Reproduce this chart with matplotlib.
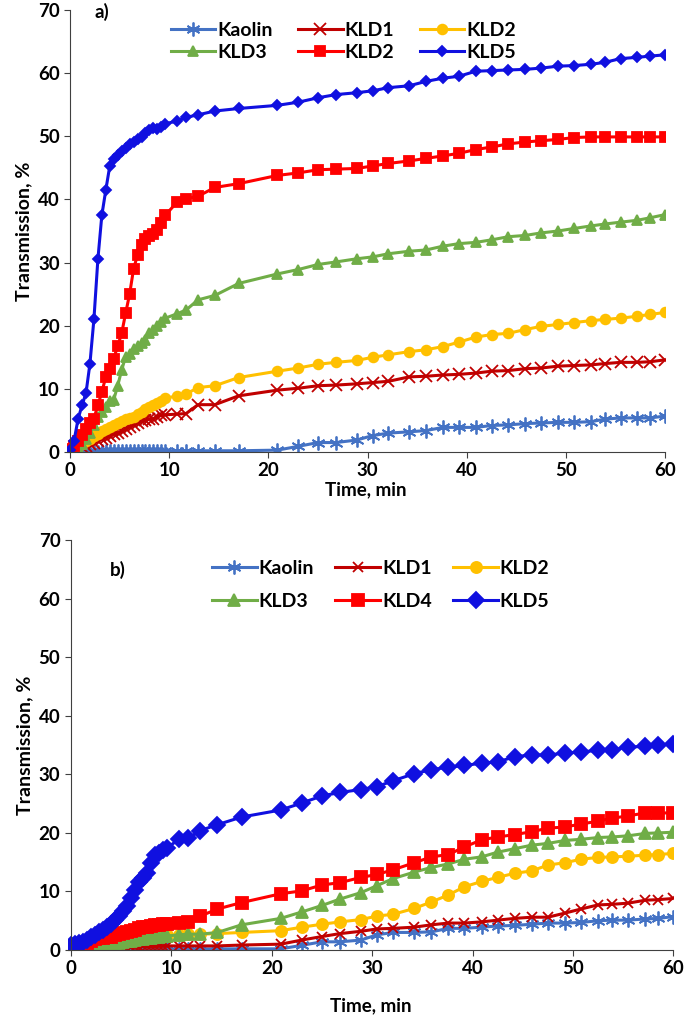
import matplotlib
matplotlib.use("Agg")
import matplotlib.pyplot as plt

plt.rcParams['font.family'] = ['Lato', 'DejaVu Sans']
plt.rcParams['font.weight'] = 'bold'

# time grid, min (dense sampling first 10 min)
t = [0, 0.4, 0.8, 1.2, 1.6, 2.0, 2.4, 2.8, 3.2, 3.6, 4.0, 4.4, 4.8, 5.2, 5.6,
     6.0, 6.4, 6.8, 7.2, 7.6, 8.0, 8.4, 8.8, 9.2, 9.6,
     10.8, 11.7, 12.9, 14.6, 17.0, 20.9, 23.0, 25.0, 26.8, 28.9, 30.5, 32.1,
     34.2, 35.9, 37.6, 39.2, 40.9, 42.5, 44.2, 45.9, 47.5, 49.2, 50.8, 52.5,
     53.9, 55.5, 57.2, 58.5, 60.0]

# panel a) transmission, %
kaolin_a = [0.0, 0.0, 0.0, 0.0, 0.0, 0.0, 0.0, 0.0, 0.1, 0.1, 0.1, 0.1, 0.1,
            0.1, 0.1, 0.1, 0.1, 0.1, 0.1, 0.1, 0.1, 0.1, 0.2, 0.2, 0.2,
            0.2, 0.2, 0.2, 0.2, 0.2, 0.3, 0.9, 1.5, 1.5, 1.9, 2.6, 3.0, 3.2,
            3.4, 3.9, 3.9, 3.9, 4.2, 4.3, 4.5, 4.6, 4.7, 4.7, 4.8, 5.2, 5.4,
            5.4, 5.4, 5.7]
kld1_a = [0.2, 0.3, 0.5, 0.8, 1.0, 1.3, 1.5, 1.8, 2.0, 2.3, 2.5, 2.8, 3.0,
          3.3, 3.6, 4.0, 4.3, 4.6, 4.9, 5.0, 5.2, 5.3, 5.6, 5.8, 5.9,
          6.0, 6.1, 7.5, 7.5, 8.9, 9.8, 10.1, 10.5, 10.6, 10.8, 11.0, 11.2,
          11.9, 12.0, 12.2, 12.3, 12.5, 12.8, 12.9, 13.2, 13.3, 13.6, 13.7,
          13.8, 14.0, 14.2, 14.2, 14.3, 14.6]
kld2_a = [0.3, 0.6, 0.9, 1.3, 1.7, 2.1, 2.5, 2.9, 3.3, 3.7, 4.0, 4.3, 4.6,
          4.9, 5.2, 5.4, 5.6, 6.0, 6.4, 6.8, 7.1, 7.4, 7.8, 8.1, 8.5,
          8.9, 9.2, 10.2, 10.5, 11.8, 12.8, 13.3, 13.9, 14.2, 14.5, 15.0,
          15.4, 15.9, 16.2, 16.7, 17.4, 18.2, 18.6, 18.8, 19.4, 19.9, 20.2,
          20.5, 20.8, 21.0, 21.2, 21.5, 21.8, 22.1]
kld3_a = [0.1, 0.4, 0.7, 1.3, 2.0, 3.0, 4.3, 5.5, 6.3, 7.2, 8.1, 8.3, 10.5,
          13.0, 15.1, 15.6, 16.3, 16.8, 17.2, 17.8, 18.9, 19.4, 19.9, 20.6,
          21.2,
          21.9, 22.5, 24.1, 24.8, 26.7, 28.2, 28.9, 29.7, 30.1, 30.6, 30.9,
          31.4, 31.8, 32.0, 32.6, 33.0, 33.2, 33.6, 34.1, 34.3, 34.7, 35.0,
          35.4, 35.8, 36.1, 36.4, 36.7, 37.1, 37.6]
kld4_a = [0.5, 1.0, 1.8, 2.7, 3.6, 4.6, 5.3, 7.4, 9.5, 11.9, 13.2, 14.8,
          16.8, 18.8, 22.0, 25.0, 29.0, 31.2, 32.8, 33.8, 34.2, 34.5, 35.2,
          36.3, 37.5,
          39.6, 40.1, 40.5, 41.9, 42.5, 43.8, 44.2, 44.7, 44.8, 44.9, 45.3,
          45.7, 46.1, 46.5, 46.9, 47.3, 47.9, 48.3, 48.8, 49.1, 49.3, 49.5,
          49.8, 49.9, 49.9, 49.9, 49.9, 49.9, 49.9]
kld5_a = [0.4, 1.8, 5.2, 7.4, 9.3, 14.0, 21.0, 30.5, 37.5, 41.5, 45.3, 46.4,
          47.1, 47.6, 48.2, 48.7, 49.1, 49.6, 49.9, 50.5, 51.0, 51.3, 51.2,
          51.4, 52.0,
          52.4, 53.0, 53.4, 54.0, 54.4, 54.9, 55.4, 56.1, 56.6, 56.9, 57.2,
          57.7, 58.0, 58.7, 59.2, 59.5, 60.3, 60.4, 60.5, 60.6, 60.8, 61.1,
          61.2, 61.4, 61.7, 62.3, 62.5, 62.7, 62.9]

# panel b) transmission, %
kaolin_b = [0.0, 0.0, 0.0, 0.0, 0.0, 0.0, 0.0, 0.0, 0.0, 0.0, 0.1, 0.1, 0.1,
            0.1, 0.1, 0.1, 0.1, 0.1, 0.1, 0.1, 0.1, 0.1, 0.1, 0.1, 0.1,
            0.1, 0.1, 0.2, 0.2, 0.2, 0.2, 0.8, 1.4, 1.4, 1.7, 2.6, 3.0, 3.0,
            3.1, 3.7, 3.7, 3.9, 4.1, 4.2, 4.4, 4.6, 4.6, 4.7, 5.0, 5.1, 5.1,
            5.3, 5.4, 5.7]
kld1_b = [0.0, 0.0, 0.0, 0.0, 0.1, 0.1, 0.1, 0.2, 0.2, 0.2, 0.3, 0.3, 0.3,
          0.4, 0.4, 0.5, 0.5, 0.5, 0.6, 0.6, 0.6, 0.6, 0.7, 0.7, 0.7,
          0.7, 0.7, 0.7, 0.7, 0.85, 1.0, 1.7, 2.3, 2.8, 3.2, 3.6, 3.7, 3.9,
          4.3, 4.6, 4.6, 4.8, 5.1, 5.4, 5.6, 5.6, 6.3, 7.0, 7.7, 7.8, 8.0,
          8.5, 8.6, 8.8]
kld2_b = [0.0, 0.0, 0.1, 0.1, 0.2, 0.3, 0.4, 0.5, 0.7, 0.9, 1.0, 1.1, 1.3,
          1.4, 1.5, 1.6, 1.7, 1.8, 2.0, 2.1, 2.2, 2.3, 2.4, 2.5, 2.5,
          2.6, 2.7, 2.7, 2.8, 3.0, 3.3, 3.9, 4.4, 4.8, 5.2, 5.8, 6.1, 7.1,
          8.2, 9.4, 10.8, 11.7, 12.4, 13.1, 13.5, 14.5, 14.9, 15.5, 15.8,
          15.9, 16.0, 16.2, 16.3, 16.5]
kld3_b = [0.0, 0.0, 0.1, 0.1, 0.2, 0.3, 0.4, 0.5, 0.6, 0.8, 1.0, 1.1, 1.2,
          1.3, 1.5, 1.6, 1.7, 1.8, 1.9, 2.0, 2.1, 2.2, 2.3, 2.4, 2.4,
          2.6, 2.7, 2.7, 3.0, 4.3, 5.4, 6.5, 7.6, 8.7, 9.8, 11.0, 12.2, 13.3,
          14.1, 14.7, 15.5, 15.9, 16.7, 17.3, 17.9, 18.2, 18.7, 18.9, 19.2,
          19.3, 19.5, 19.9, 20.0, 20.1]
kld4_b = [0.0, 0.3, 0.6, 0.9, 1.2, 1.5, 1.8, 2.0, 2.1, 2.2, 2.3, 2.5, 2.7,
          2.9, 3.1, 3.3, 3.5, 3.7, 3.9, 4.0, 4.1, 4.2, 4.3, 4.4, 4.4,
          4.6, 4.7, 5.8, 7.0, 8.1, 9.6, 10.1, 11.1, 11.5, 12.4, 12.9, 13.7,
          14.9, 15.9, 16.3, 17.6, 18.8, 19.3, 19.7, 20.2, 20.8, 21.0, 21.5,
          22.0, 22.5, 22.9, 23.4, 23.4, 23.4]
kld5_b = [0.8, 1.0, 1.2, 1.4, 1.7, 2.2, 2.6, 3.0, 3.5, 4.0, 4.5, 5.1, 5.8,
          6.6, 7.5, 8.8, 10.3, 11.6, 12.3, 13.2, 14.8, 16.2, 16.6, 17.1, 17.5,
          18.9, 19.1, 20.4, 21.4, 22.7, 23.9, 25.1, 26.3, 26.9, 27.4, 27.9,
          28.9, 30.1, 30.8, 31.2, 31.5, 31.9, 32.1, 33.0, 33.3, 33.3, 33.6,
          33.8, 34.1, 34.2, 34.6, 34.8, 35.0, 35.2]

labels_a = ['Kaolin', 'KLD1', 'KLD2', 'KLD3', 'KLD2', 'KLD5']
labels_b = ['Kaolin', 'KLD1', 'KLD2', 'KLD3', 'KLD4', 'KLD5']
colors = ['#4472C4', '#C00000', '#FFC000', '#70AD47', '#FF0000', '#1010E0']
markers = [(6, 2, 0), 'x', 'o', '^', 's', 'D']

FS = 13.5

fig = plt.figure(figsize=(6.85, 10.19), dpi=100)
ax1 = fig.add_axes([0.098, 0.5564, 0.873, 0.4338])
ax2 = fig.add_axes([0.099, 0.0677, 0.884, 0.4024])


def draw(ax, series, labels, msizes, xlabpad, tag, tagpos, legpos, rowsp, colsp):
    handles = []
    for y, lab, c, m, ms in zip(series, labels, colors, markers, msizes):
        h, = ax.plot(t, y, color=c, marker=m, markersize=ms, lw=2.2,
                     markeredgewidth=1.3, label=lab)
        handles.append(h)
    ax.set_xlim(-0.3, 60)
    ax.set_ylim(0, 70)
    ax.set_xticks(range(0, 61, 10))
    ax.set_yticks(range(0, 71, 10))
    for s in ['top', 'right']:
        ax.spines[s].set_visible(False)
    ax.spines['left'].set_position(('data', 0))
    ax.spines['left'].set_color('#404040')
    ax.spines['bottom'].set_color('#404040')
    ax.tick_params(labelsize=FS, length=4, color='#404040')
    ax.set_xlabel('Time, min', fontsize=FS, fontweight='bold', labelpad=xlabpad)
    ax.set_ylabel('Transmission, %', fontsize=FS + 0.5, fontweight='bold', labelpad=4)
    ax.text(tagpos[0], tagpos[1], tag, transform=ax.transAxes, fontsize=FS,
            fontweight='bold', va='center')
    order = [0, 3, 1, 4, 2, 5]
    ax.legend([handles[i] for i in order], [labels[i] for i in order],
              ncol=3, frameon=False, loc='upper left', bbox_to_anchor=legpos,
              fontsize=FS + 0.5, handlelength=2.3, handletextpad=0.1,
              columnspacing=colsp, labelspacing=rowsp, borderaxespad=0)


draw(ax1, [kaolin_a, kld1_a, kld2_a, kld3_a, kld4_a, kld5_a], labels_a,
     [10, 8, 7, 7, 7, 5.5], 1, 'a)', (0.045, 0.995), (0.16, 0.99), 0.25, 1.3)
draw(ax2, [kaolin_b, kld1_b, kld2_b, kld3_b, kld4_b, kld5_b], labels_b,
     [10, 7, 8, 8, 8, 8], 14, 'b)', (0.07, 0.927), (0.225, 0.97), 0.8, 1.1)

fig.savefig('out.png', dpi=100)
